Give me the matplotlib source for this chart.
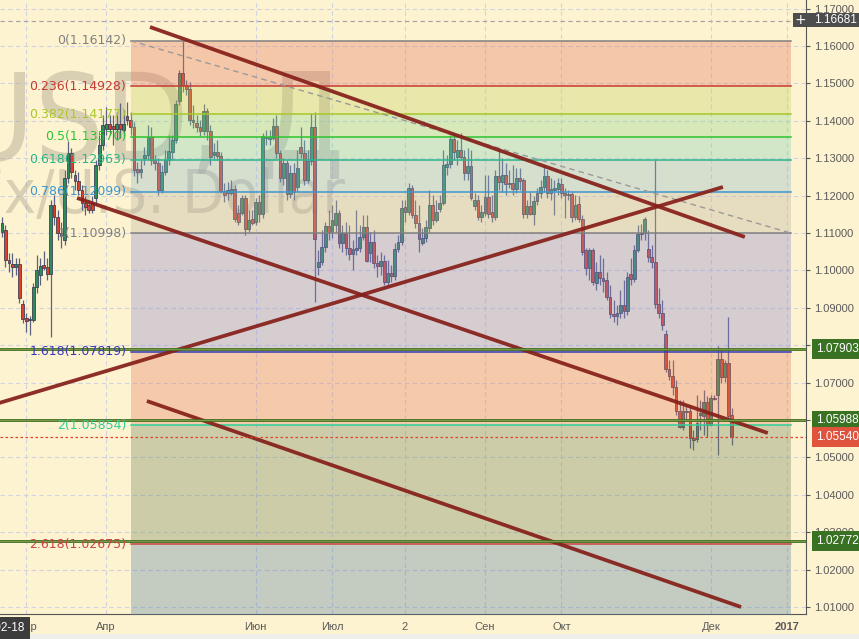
import numpy as np
import pandas as pd
import matplotlib
matplotlib.use("Agg")
import matplotlib.pyplot as plt
from matplotlib.transforms import blended_transform_factory
from matplotlib.patches import Rectangle

# ---------------- data ----------------
first_date = "2016-02-19"
opens = [1.1103, 1.1108, 1.1028, 1.1017, 1.1009, 1.1017, 1.0910, 1.0873, 1.0867, 1.0867,
         1.0956, 1.0988, 1.1014, 1.1009, 1.0990, 1.1175, 1.1143, 1.1100, 1.1081, 1.1247,
         1.1314, 1.1255, 1.1239, 1.1215, 1.1180, 1.1175, 1.1180, 1.1194, 1.1282, 1.1335,
         1.1378, 1.1391, 1.1386, 1.1378, 1.1391, 1.1375, 1.1413, 1.1402, 1.1383, 1.1271,
         1.1263, 1.1300, 1.1308, 1.1357, 1.1295, 1.1287, 1.1215, 1.1263, 1.1295, 1.1316,
         1.1349, 1.1453, 1.1528, 1.1496, 1.1485, 1.1402, 1.1394, 1.1383, 1.1373, 1.1426,
         1.1373, 1.1308, 1.1316, 1.1306, 1.1212, 1.1207, 1.1207, 1.1218, 1.1153, 1.1153,
         1.1194, 1.1111, 1.1137, 1.1129, 1.1183, 1.1151, 1.1354, 1.1351, 1.1354, 1.1386,
         1.1314, 1.1247, 1.1287, 1.1204, 1.1260, 1.1223, 1.1330, 1.1314, 1.1242, 1.1293,
         1.1383, 1.1009, 1.1022, 1.1062, 1.1119, 1.1103, 1.1121, 1.1153, 1.1073, 1.1100,
         1.1060, 1.1044, 1.1055, 1.1060, 1.1089, 1.1116, 1.1046, 1.1076, 1.1020, 1.1012,
         1.1025, 1.0969, 1.0993, 1.0985, 1.1057, 1.1076, 1.1169, 1.1156, 1.1220, 1.1148,
         1.1127, 1.1073, 1.1086, 1.1113, 1.1175, 1.1135, 1.1164, 1.1180, 1.1276, 1.1284,
         1.1351, 1.1303, 1.1322, 1.1303, 1.1260, 1.1279, 1.1172, 1.1188, 1.1143, 1.1153,
         1.1196, 1.1156, 1.1143, 1.1252, 1.1236, 1.1255, 1.1234, 1.1234, 1.1218, 1.1247,
         1.1242, 1.1151, 1.1172, 1.1151, 1.1186, 1.1207, 1.1223, 1.1252, 1.1207, 1.1215,
         1.1218, 1.1231, 1.1207, 1.1204, 1.1204, 1.1143, 1.1177, 1.1137, 1.1055, 1.1006,
         1.1055, 1.0966, 1.0996, 1.0980, 1.0974, 1.0929, 1.0883, 1.0878, 1.0886, 1.0907,
         1.0891, 1.0990, 1.0977, 1.1055, 1.1097, 1.1100, 1.1057, 1.1036, 1.1022, 1.0910,
         1.0886, 1.0830, 1.0736, 1.0718, 1.0688, 1.0624, 1.0581, 1.0622, 1.0624, 1.0552,
         1.0549, 1.0613, 1.0610, 1.0648, 1.0587, 1.0659, 1.0667, 1.0763, 1.0715, 1.0752,
         1.0613]
highs = [1.1143, 1.1121, 1.1046, 1.1046, 1.1033, 1.1033, 1.0921, 1.0886, 1.0878, 1.0966,
         1.1041, 1.1033, 1.1052, 1.1033, 1.1188, 1.1202, 1.1161, 1.1129, 1.1268, 1.1346,
         1.1327, 1.1268, 1.1263, 1.1228, 1.1199, 1.1188, 1.1199, 1.1295, 1.1362, 1.1415,
         1.1437, 1.1415, 1.1415, 1.1423, 1.1448, 1.1429, 1.1450, 1.1423, 1.1397, 1.1290,
         1.1295, 1.1330, 1.1389, 1.1383, 1.1308, 1.1300, 1.1282, 1.1322, 1.1362, 1.1362,
         1.1456, 1.1536, 1.1614, 1.1509, 1.1504, 1.1442, 1.1415, 1.1402, 1.1445, 1.1434,
         1.1389, 1.1341, 1.1349, 1.1316, 1.1234, 1.1236, 1.1242, 1.1228, 1.1175, 1.1202,
         1.1202, 1.1161, 1.1161, 1.1194, 1.1202, 1.1367, 1.1375, 1.1375, 1.1407, 1.1415,
         1.1322, 1.1300, 1.1295, 1.1282, 1.1287, 1.1322, 1.1383, 1.1349, 1.1322, 1.1421,
         1.1423, 1.1055, 1.1108, 1.1129, 1.1161, 1.1175, 1.1188, 1.1161, 1.1121, 1.1129,
         1.1121, 1.1081, 1.1161, 1.1121, 1.1148, 1.1148, 1.1103, 1.1108, 1.1041, 1.1049,
         1.1041, 1.1028, 1.1014, 1.1073, 1.1095, 1.1188, 1.1188, 1.1234, 1.1228, 1.1188,
         1.1175, 1.1113, 1.1135, 1.1215, 1.1202, 1.1188, 1.1202, 1.1322, 1.1308, 1.1362,
         1.1367, 1.1349, 1.1367, 1.1322, 1.1327, 1.1322, 1.1207, 1.1202, 1.1175, 1.1255,
         1.1255, 1.1202, 1.1268, 1.1327, 1.1300, 1.1287, 1.1268, 1.1282, 1.1274, 1.1274,
         1.1247, 1.1188, 1.1210, 1.1199, 1.1220, 1.1242, 1.1282, 1.1268, 1.1247, 1.1242,
         1.1247, 1.1247, 1.1220, 1.1215, 1.1210, 1.1202, 1.1199, 1.1148, 1.1060, 1.1060,
         1.1060, 1.1022, 1.1041, 1.1033, 1.0996, 1.0961, 1.0921, 1.0907, 1.0948, 1.0974,
         1.0996, 1.1033, 1.1068, 1.1121, 1.1124, 1.1143, 1.1108, 1.1068, 1.1295, 1.0953,
         1.0921, 1.0841, 1.0760, 1.0760, 1.0707, 1.0653, 1.0653, 1.0640, 1.0640, 1.0573,
         1.0667, 1.0653, 1.0680, 1.0664, 1.0667, 1.0667, 1.0798, 1.0787, 1.0760, 1.0875,
         1.0632]
lows = [1.1089, 1.1009, 1.0996, 1.0982, 1.0988, 1.0913, 1.0859, 1.0835, 1.0827, 1.0862,
        1.0940, 1.0961, 1.1001, 1.0974, 1.0822, 1.1121, 1.1081, 1.1060, 1.1068, 1.1234,
        1.1247, 1.1215, 1.1202, 1.1161, 1.1148, 1.1153, 1.1153, 1.1175, 1.1268, 1.1322,
        1.1362, 1.1362, 1.1335, 1.1349, 1.1354, 1.1362, 1.1389, 1.1362, 1.1252, 1.1234,
        1.1247, 1.1282, 1.1295, 1.1282, 1.1268, 1.1202, 1.1207, 1.1255, 1.1282, 1.1295,
        1.1341, 1.1442, 1.1477, 1.1469, 1.1389, 1.1381, 1.1370, 1.1359, 1.1362, 1.1349,
        1.1282, 1.1295, 1.1295, 1.1207, 1.1183, 1.1188, 1.1202, 1.1129, 1.1121, 1.1148,
        1.1095, 1.1103, 1.1121, 1.1121, 1.1129, 1.1140, 1.1335, 1.1335, 1.1349, 1.1300,
        1.1236, 1.1228, 1.1188, 1.1194, 1.1188, 1.1210, 1.1300, 1.1228, 1.1234, 1.1282,
        1.0916, 1.0988, 1.1014, 1.1049, 1.1081, 1.1086, 1.1103, 1.1060, 1.1049, 1.1041,
        1.1028, 1.1001, 1.1041, 1.1049, 1.1081, 1.1022, 1.1022, 1.1006, 1.0982, 1.0988,
        1.0961, 1.0961, 1.0969, 1.0974, 1.1049, 1.1068, 1.1129, 1.1148, 1.1140, 1.1113,
        1.1049, 1.1068, 1.1076, 1.1103, 1.1121, 1.1129, 1.1156, 1.1175, 1.1255, 1.1274,
        1.1295, 1.1282, 1.1295, 1.1242, 1.1242, 1.1188, 1.1161, 1.1135, 1.1129, 1.1145,
        1.1140, 1.1129, 1.1135, 1.1215, 1.1210, 1.1202, 1.1220, 1.1202, 1.1207, 1.1215,
        1.1140, 1.1140, 1.1148, 1.1121, 1.1175, 1.1194, 1.1210, 1.1194, 1.1188, 1.1148,
        1.1202, 1.1194, 1.1140, 1.1188, 1.1129, 1.1135, 1.1129, 1.1041, 1.0988, 1.0974,
        1.0961, 1.0948, 1.0961, 1.0942, 1.0921, 1.0873, 1.0862, 1.0854, 1.0873, 1.0873,
        1.0881, 1.0961, 1.0969, 1.1049, 1.1081, 1.1081, 1.1022, 1.1006, 1.0899, 1.0873,
        1.0841, 1.0728, 1.0707, 1.0667, 1.0613, 1.0578, 1.0573, 1.0600, 1.0525, 1.0520,
        1.0541, 1.0573, 1.0560, 1.0554, 1.0587, 1.0653, 1.0506, 1.0699, 1.0701, 1.0600,
        1.0533]
closes = [1.1127, 1.1028, 1.1020, 1.1009, 1.1017, 1.0926, 1.0870, 1.0865, 1.0870, 1.0956,
          1.1001, 1.1012, 1.1006, 1.0990, 1.1175, 1.1143, 1.1100, 1.1092, 1.1247, 1.1314,
          1.1263, 1.1239, 1.1215, 1.1180, 1.1169, 1.1161, 1.1161, 1.1282, 1.1335, 1.1389,
          1.1391, 1.1378, 1.1378, 1.1391, 1.1378, 1.1391, 1.1402, 1.1383, 1.1268, 1.1263,
          1.1271, 1.1308, 1.1357, 1.1295, 1.1287, 1.1215, 1.1263, 1.1295, 1.1319, 1.1349,
          1.1445, 1.1528, 1.1496, 1.1485, 1.1402, 1.1397, 1.1383, 1.1373, 1.1426, 1.1373,
          1.1303, 1.1316, 1.1306, 1.1212, 1.1202, 1.1215, 1.1218, 1.1137, 1.1129, 1.1194,
          1.1111, 1.1135, 1.1127, 1.1183, 1.1151, 1.1359, 1.1357, 1.1357, 1.1386, 1.1314,
          1.1247, 1.1287, 1.1204, 1.1260, 1.1210, 1.1274, 1.1314, 1.1242, 1.1293, 1.1383,
          1.1084, 1.1022, 1.1062, 1.1119, 1.1103, 1.1135, 1.1153, 1.1073, 1.1100, 1.1060,
          1.1044, 1.1057, 1.1060, 1.1089, 1.1116, 1.1025, 1.1076, 1.1020, 1.1012, 1.1025,
          1.0969, 1.0993, 1.0985, 1.1057, 1.1076, 1.1167, 1.1156, 1.1220, 1.1148, 1.1127,
          1.1084, 1.1086, 1.1116, 1.1175, 1.1135, 1.1156, 1.1180, 1.1282, 1.1284, 1.1351,
          1.1316, 1.1322, 1.1303, 1.1260, 1.1279, 1.1194, 1.1188, 1.1143, 1.1156, 1.1196,
          1.1151, 1.1143, 1.1252, 1.1236, 1.1255, 1.1231, 1.1231, 1.1218, 1.1247, 1.1239,
          1.1151, 1.1172, 1.1151, 1.1186, 1.1207, 1.1223, 1.1252, 1.1207, 1.1218, 1.1220,
          1.1234, 1.1207, 1.1202, 1.1202, 1.1143, 1.1175, 1.1137, 1.1049, 1.1006, 1.1055,
          1.0969, 1.0996, 1.0980, 1.0972, 1.0929, 1.0883, 1.0878, 1.0886, 1.0907, 1.0891,
          1.0982, 1.0977, 1.1055, 1.1097, 1.1100, 1.1137, 1.1036, 1.1022, 1.0910, 1.0886,
          1.0854, 1.0736, 1.0718, 1.0688, 1.0624, 1.0581, 1.0624, 1.0624, 1.0552, 1.0547,
          1.0592, 1.0619, 1.0648, 1.0587, 1.0659, 1.0656, 1.0763, 1.0715, 1.0752, 1.0611,
          1.0554]

month_dates = ["2016-03-01", "2016-04-01", "2016-06-01", "2016-07-01", "2016-08-01",
               "2016-09-01", "2016-10-03", "2016-12-01", "2017-01-02"]
month_labels = ["Мар", "Апр", "Июн", "Июл", "2", "Сен", "Окт", "Дек", "2017"]

fib_levels = [0, 0.236, 0.382, 0.5, 0.618, 0.786, 1, 1.618, 2, 2.618, 3.618]
fib_level_text = ["0", "0.236", "0.382", "0.5", "0.618", "0.786", "1", "1.618", "2", "2.618", None]
fib_p0, fib_p1 = 1.16142, 1.10998
fib_dates = ["2016-04-12", "2017-01-03"]

# trend lines: (bar index, price) anchors
trend_lines = [
    [(43.6, 1.16508), (214.8, 1.10893)],
    [(22.6, 1.11936), (221.4, 1.05652)],
    [(0.0, 1.06450), (208.5, 1.12230)],
    [(42.7, 1.06508), (213.7, 1.01000)],
]
hlines_green = [1.07903, 1.05988, 1.02772]
last_price = 1.05540
cross_price = 1.16681
yticks = [1.01, 1.02, 1.03, 1.04, 1.05, 1.06, 1.07, 1.08, 1.09, 1.10,
          1.11, 1.12, 1.13, 1.14, 1.15, 1.16, 1.17]

# ---------------- style ----------------
BG = "#fef3d0"
UP = "#2a8c5a"
DN = "#dc402c"
EDGE = "#363a52"
WICK = "#5b6380"
fill_cols = ["#e2765f", "#c4d165", "#8fd490", "#80ceba", "#8cb7cc", "#bcb4a4",
             "#8c86d2", "#e27e65", "#728460", "#5881a4"]
line_cols = ["#808080", "#c83a32", "#a8c82a", "#2ec42e", "#2ab58a", "#3d96d0",
             "#808080", "#3a3ab8", "#2ecf9a", "#c84545"]

# ---------------- positions ----------------
bdays = pd.bdate_range("2016-02-18", "2017-01-31")
pos_of = {d: i for i, d in enumerate(bdays)}
cand_dates = pd.bdate_range(first_date, periods=len(opens))
xs = np.array([pos_of[d] for d in cand_dates], dtype=float)
o = np.array(opens); h = np.array(highs); l = np.array(lows); c = np.array(closes)

fig = plt.figure(figsize=(8.59, 6.39), dpi=100)
fig.patch.set_facecolor(BG)
fig.patches.append(Rectangle((0, 0), 1, 5 / 639, transform=fig.transFigure,
                             fc="#eeeeea", ec="none", zorder=0))
ax = fig.add_axes([0, 25 / 639, 806 / 859, 614 / 639])
ax.set_facecolor(BG)
ax.set_xlim(0.43, 232.4)
ax.set_ylim(1.00813, 1.17230)

# grid
tick_pos = [pos_of[pd.Timestamp(d)] for d in month_dates]
for tp in tick_pos:
    ax.axvline(tp, color="#cfd3e2", lw=0.8, ls=(0, (4, 3)), zorder=0)
for yt in yticks:
    ax.axhline(yt, color="#cfd3e2", lw=0.8, ls=(0, (4, 3)), zorder=0)

# watermark
ax.text(345 / 806, 1 - 160 / 614, "EURUSD, Д", transform=ax.transAxes, ha="right",
        va="baseline", fontsize=88, color="#a89f8a", alpha=0.42, zorder=1,
        family="DejaVu Sans", fontstretch="condensed")
ax.text(345 / 806, 1 - 213 / 614, "Euro Fx/U.S. Dollar", transform=ax.transAxes,
        ha="right", va="baseline", fontsize=44, color="#a89f8a", alpha=0.42, zorder=1,
        family="DejaVu Sans", fontstretch="condensed")

# candles
up = c >= o
ax.vlines(xs, l, h, color=WICK, lw=0.9, zorder=2)
body_lo = np.minimum(o, c)
body_h = np.maximum(np.abs(c - o), 0.00008)
ax.bar(xs[up], body_h[up], bottom=body_lo[up], width=0.8, color=UP,
       edgecolor=EDGE, linewidth=0.55, zorder=2.5)
ax.bar(xs[~up], body_h[~up], bottom=body_lo[~up], width=0.8, color=DN,
       edgecolor=EDGE, linewidth=0.55, zorder=2.5)

# fibonacci
fx0 = pos_of[pd.Timestamp(fib_dates[0])]
fx1 = pos_of[pd.Timestamp(fib_dates[1])]
fib_prices = [fib_p0 - lv * (fib_p0 - fib_p1) for lv in fib_levels]
for i in range(len(fib_levels) - 1):
    ax.fill_between([fx0, fx1], fib_prices[i], fib_prices[i + 1], color=fill_cols[i],
                    alpha=0.35, lw=0, zorder=3)
for i, lv in enumerate(fib_levels[:-1]):
    ax.plot([fx0, fx1], [fib_prices[i], fib_prices[i]], color=line_cols[i], lw=1.1, zorder=4)
    ax.annotate(f"{fib_level_text[i]}({fib_prices[i]:.5f})", xy=(fx0, fib_prices[i]),
                xytext=(-3, 0), textcoords="offset points", ha="right", va="center",
                fontsize=9, color=line_cols[i], zorder=6, annotation_clip=False)
ax.plot([fx0, fx1], [fib_p0, fib_p1], color="#9a9a9a", lw=1.0, ls=(0, (4, 3)), zorder=4)

# trend lines
for (a, b) in trend_lines:
    ax.plot([a[0], b[0]], [a[1], b[1]], color="#86201a", lw=2.7, alpha=0.93,
            solid_capstyle="butt", zorder=5)

# horizontal lines
for hp in hlines_green:
    ax.axhline(hp, color="#3f6e20", lw=2.0, zorder=5)
    ax.axhline(hp, color="#86a04c", lw=0.6, zorder=5.1)
ax.axhline(last_price, color="#e0402e", lw=0.9, ls=(0, (2, 2)), zorder=5)
ax.axhline(cross_price, color="#a2a2a2", lw=0.8, ls=(0, (4, 3)), zorder=5)

# axes styling
for s in ["left", "top"]:
    ax.spines[s].set_visible(False)
ax.spines["right"].set_color("#555555")
ax.spines["bottom"].set_color("#555555")
ax.yaxis.tick_right()
ax.set_yticks(yticks)
ax.set_yticklabels([f"{v:.5f}" for v in yticks])
ax.tick_params(axis="y", direction="out", length=3, color="#555555", pad=3,
               labelsize=8, labelcolor="#5a5a5a")
ax.set_xticks(tick_pos)
ax.set_xticklabels(month_labels)
ax.tick_params(axis="x", length=0, pad=6, labelsize=8, labelcolor="#5a5a5a")
for t in ax.get_yticklabels() + ax.get_xticklabels():
    t.set_family("Liberation Sans")
ax.get_xticklabels()[-1].set_fontweight("bold")

# axis price labels
tr = blended_transform_factory(ax.transAxes, ax.transData)
def price_tag(p, fc, box=True):
    ax.annotate(f"{p:.5f}", xy=(1, p), xycoords=tr, xytext=(7, 0),
                textcoords="offset points", ha="left", va="center", fontsize=8.5,
                color="white", family="Liberation Sans", annotation_clip=False, zorder=10,
                bbox=dict(boxstyle="square,pad=0.32", fc=fc, ec="none") if box else None)
for hp in hlines_green:
    price_tag(hp, "#3a7223")
price_tag(last_price, "#e0533d")

# crosshair price tag (one dark box with "+" and price)
fig.patches.append(Rectangle((793 / 859, (639 - 27) / 639), 66 / 859, 14 / 639,
                             transform=fig.transFigure, fc="#4d4d4d", ec="none", zorder=20))
fig.text(800 / 859, (639 - 20) / 639, "+", ha="center", va="center", fontsize=10,
         color="white", zorder=21)
fig.text(814 / 859, (639 - 20) / 639, f"{cross_price:.5f}", ha="left", va="center",
         fontsize=8.5, color="white", family="Liberation Sans", zorder=21)

# crosshair date tag
fig.text(25 / 859, 11 / 639, "2016-02-18", ha="right", va="center", fontsize=8.5,
         color="white", family="Liberation Sans",
         bbox=dict(boxstyle="square,pad=0.45", fc="#3c3c3c", ec="none"))

fig.savefig("out.png", dpi=100, facecolor=BG)
